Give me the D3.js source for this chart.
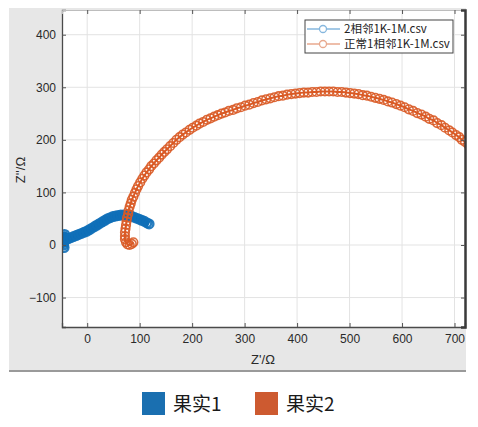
<!DOCTYPE html>
<html><head><meta charset="utf-8">
<script src="https://cdn.jsdelivr.net/npm/d3@7"></script>
<style>body{margin:0;background:#fff;}svg{display:block;}</style>
</head><body>
<svg id="c" width="478" height="427"></svg>
<script>
const xTicks = [0,100,200,300,400,500,600,700];
const yTicks = [-100,0,100,200,300,400];
const seriesNames = ["2相邻1K-1M.csv","正常1相邻1K-1M.csv"];
const bottomLegend = ["果实1","果实2"];
const blueZ = [[-44,-5],[-45,0],[-45,5],[-44,10],[-44,15],[-43,20],[-42,14],[-40,10],[-36,12],[-31,14],[-26,16],[-21,18],[-16,20],[-11,22],[-6,24],[-1,26],[4,29],[9,32],[14,35],[19,38],[24,41],[29,44],[34,47],[39,50],[44,52],[49,54],[54,55],[59,56],[64,57],[69,57],[74,57],[79,56],[84,55],[89,53],[94,51],[99,49],[104,47],[109,45],[114,42],[118,40]];
const orangeZ = [[88,5],[85,2],[81,0],[77,1],[74,5],[72,11],[72,17],[72,24],[73,31],[74,38],[75,45],[76,52],[78,59],[79,66],[81,73],[83,79],[85,86],[88,92],[91,99],[94,106],[97,112],[101,119],[105,126],[109,132],[113,138],[118,144],[122,150],[127,155],[132,161],[137,166],[142,172],[147,177],[152,182],[158,188],[164,194],[170,200],[176,205],[182,210],[188,214],[195,219],[201,223],[208,227],[214,231],[221,234],[228,238],[235,241],[242,244],[249,247],[256,250],[263,252],[270,255],[278,257],[285,260],[293,262],[301,265],[309,267],[317,270],[325,272],[333,275],[341,277],[349,279],[357,281],[365,283],[373,284],[381,286],[389,287],[397,288],[405,289],[413,290],[421,290],[429,291],[437,291],[445,292],[453,292],[461,292],[469,292],[477,291],[485,291],[493,290],[501,289],[509,288],[517,287],[525,285],[533,284],[541,282],[549,280],[557,278],[565,276],[573,273],[581,271],[589,268],[597,265],[605,262],[613,258],[621,255],[629,251],[637,248],[645,244],[652,240],[660,237],[667,232],[675,228],[682,223],[690,218],[696,214],[703,209],[709,205],[714,200],[720,196],[726,191]];
const colors = ["#0f6fb8","#d95a25"];
const legendColors = ["#1a6fb0","#cd5a30"];

const svg = d3.select("#c");
const L=62,R=465,T=10,B=327;
const x = d3.scaleLinear().domain([-48,720]).range([L,R]);
const y = d3.scaleLinear().domain([-156,447]).range([B,T]);
const font = "'Liberation Sans', Arial, sans-serif";

svg.append("rect").attr("x",9).attr("y",8).attr("width",R-9+1).attr("height",362).attr("fill","#e7e7e7");
svg.append("line").attr("x1",9).attr("x2",R+1).attr("y1",371).attr("y2",371).attr("stroke","#9a9a9a").attr("stroke-width",2);
svg.append("rect").attr("x",L).attr("y",T).attr("width",R-L).attr("height",B-T).attr("fill","#fff");

const g = svg.append("g");
g.selectAll(".gx").data(xTicks).join("line").attr("x1",d=>x(d)).attr("x2",d=>x(d)).attr("y1",T).attr("y2",B).attr("stroke","#e3e3e3").attr("stroke-width",1);
g.selectAll(".gy").data(yTicks).join("line").attr("y1",d=>y(d)).attr("y2",d=>y(d)).attr("x1",L).attr("x2",R).attr("stroke","#e3e3e3").attr("stroke-width",1);

svg.append("clipPath").attr("id","clip").append("rect").attr("x",L).attr("y",T).attr("width",R-L).attr("height",B-T);
const plot = svg.append("g").attr("clip-path","url(#clip)");
const line = d3.line().curve(d3.curveCatmullRom).x(d=>x(d[0])).y(d=>y(d[1]));
[blueZ, orangeZ].forEach((data,i)=>{
  const s = plot.append("g");
  s.append("path").datum(data).attr("d",line).attr("fill","none").attr("stroke",colors[i]).attr("stroke-width",i===0?6:2);
  s.selectAll("circle").data(data).join("circle").attr("cx",d=>x(d[0])).attr("cy",d=>y(d[1])).attr("r",4.3)
    .attr("fill","none").attr("stroke",colors[i]).attr("stroke-width",i===0?2.4:1.6).attr("stroke-opacity",0.9);
});

const ax = svg.append("g").attr("transform",`translate(0,${B})`).call(d3.axisBottom(x).tickValues(xTicks).tickSize(-4).tickPadding(7));
const ay = svg.append("g").attr("transform",`translate(${L},0)`).call(d3.axisLeft(y).tickValues(yTicks).tickSize(-4).tickPadding(6));
const axT = svg.append("g").attr("transform",`translate(0,${T})`).call(d3.axisTop(x).tickValues(xTicks).tickSize(-4).tickFormat(""));
const ayR = svg.append("g").attr("transform",`translate(${R},0)`).call(d3.axisRight(y).tickValues(yTicks).tickSize(-4).tickFormat(""));
[ax,ay,axT,ayR].forEach(a=>{
  a.selectAll("text").attr("font-family",font).attr("font-size",12).attr("fill","#2a2a2a");
  a.selectAll("line").attr("stroke","#555");
  a.select(".domain").attr("stroke","#4a4a4a").attr("stroke-width",1.3);
});
axT.select(".domain").attr("stroke","#bdbdbd").attr("stroke-width",1);
ayR.select(".domain").attr("stroke","#3a3a3a").attr("stroke-width",2.5);

svg.append("text").attr("x",263).attr("y",364).attr("text-anchor","middle").attr("font-family",font).attr("font-size",13).attr("fill","#2a2a2a").text("Z'/Ω");
svg.append("text").attr("transform","translate(25,170) rotate(-90)").attr("text-anchor","middle").attr("font-family",font).attr("font-size",13).attr("fill","#2a2a2a").text("Z''/Ω");

const lg = svg.append("g");
lg.append("rect").attr("x",305).attr("y",20).attr("width",148).attr("height",33).attr("fill","#fff").attr("stroke","#444").attr("stroke-width",1);
const legLine = ["#86b7de","#e8a98e"];
seriesNames.forEach((nm,i)=>{
  const yy = 29 + i*15;
  lg.append("line").attr("x1",307).attr("x2",340).attr("y1",yy).attr("y2",yy).attr("stroke",legLine[i]).attr("stroke-width",1.3);
  lg.append("circle").attr("cx",323).attr("cy",yy).attr("r",3.5).attr("fill","#fff").attr("stroke",legLine[i]).attr("stroke-width",1.3);
  lg.append("text").attr("x",344).attr("y",yy+4).attr("font-family","'Noto Sans CJK SC', sans-serif").attr("font-size",11.5).attr("fill","#222").text(nm);
});

const bx = [142,255];
bottomLegend.forEach((nm,i)=>{
  svg.append("rect").attr("x",bx[i]).attr("y",392).attr("width",23).attr("height",23).attr("fill",legendColors[i]);
  svg.append("text").attr("x",bx[i]+31).attr("y",411).attr("font-family","'Noto Sans CJK SC', sans-serif").attr("font-size",19).attr("fill","#1a1a1a").text(nm);
});
</script>
</body></html>
